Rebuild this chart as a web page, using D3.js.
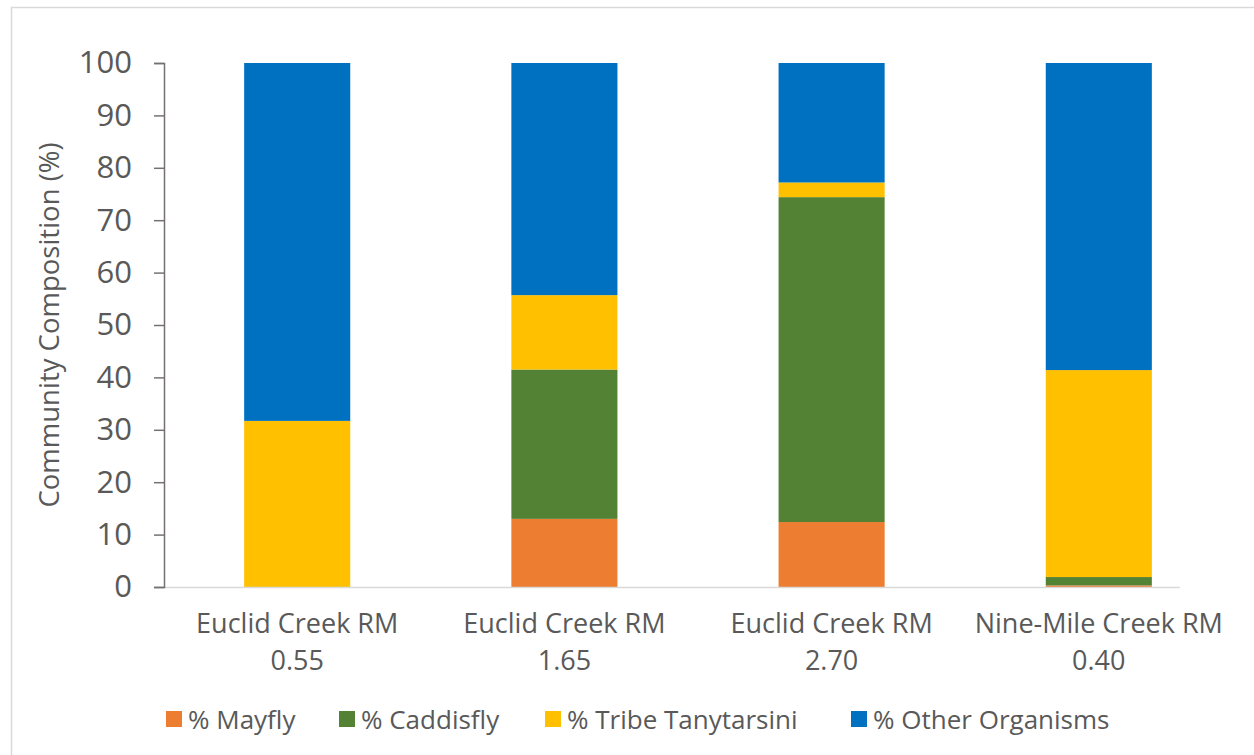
<!DOCTYPE html>
<html><head><meta charset="utf-8">
<script src="https://cdn.jsdelivr.net/npm/d3@7"></script>
<style>body{margin:0;background:#fff}svg{display:block}text{font-family:"Open Sans",sans-serif;fill:#595959}</style>
</head><body><svg id="c" width="1254" height="755"></svg>
<script>
const categories = [["Euclid Creek RM","0.55"],["Euclid Creek RM","1.65"],["Euclid Creek RM","2.70"],["Nine-Mile Creek RM","0.40"]];
const seriesNames = ["% Mayfly","% Caddisfly","% Tribe Tanytarsini","% Other Organisms"];
const colors = ["#ED7D31","#548235","#FFC000","#0070C0"];
const mayfly = [0, 13.0, 12.4, 0.3];
const caddisfly = [0, 28.5, 62.0, 1.6];
const tanytarsini = [31.7, 14.2, 2.8, 39.5];
const other = [68.3, 44.3, 22.8, 58.6];
const yTicks = [0,10,20,30,40,50,60,70,80,90,100];

const svg = d3.select("#c");
svg.append("rect").attr("x",11.5).attr("y",7.5).attr("width",1300).attr("height",800)
  .attr("fill","none").attr("stroke","#d9d9d9").attr("stroke-width",1.5);

const L=164, R=1232, T=63, B=587;
const x = d3.scaleBand().domain(d3.range(categories.length)).range([L,R]).paddingInner(0.603).paddingOuter(0.3);
const y = d3.scaleLinear().domain([0,100]).range([B,T]);

const rows = categories.map((c,i)=>({i, m:mayfly[i], c:caddisfly[i], t:tanytarsini[i], o:other[i]}));
const stack = d3.stack().keys(["m","c","t","o"])(rows);

stack.forEach((s,k)=>{
  svg.append("g").selectAll("rect").data(s).join("rect")
    .attr("x",d=>x(d.data.i)).attr("width",x.bandwidth())
    .attr("y",d=>y(d[1])).attr("height",d=>y(d[0])-y(d[1]))
    .attr("fill",colors[k]);
});

svg.append("line").attr("x1",L).attr("x2",R-52).attr("y1",B+0.5).attr("y2",B+0.5).attr("stroke","#d9d9d9").attr("stroke-width",1.5);

const ya = svg.append("g").attr("transform",`translate(${L},0)`)
  .call(d3.axisLeft(y).tickValues(yTicks).tickSize(10).tickPadding(22));
ya.select(".domain").attr("stroke","#767171").attr("stroke-width",1.5);
ya.selectAll(".tick line").attr("stroke","#767171").attr("stroke-width",1.5);
ya.selectAll(".tick text").attr("font-size",31).attr("font-family","Open Sans").attr("fill","#595959");

svg.append("text").attr("transform",`translate(59,${(T+B)/2}) rotate(-90)`)
  .attr("text-anchor","middle").attr("font-size",27.5).text("Community Composition (%)");

categories.forEach((c,i)=>{
  const cx = x(i)+x.bandwidth()/2;
  svg.append("text").attr("x",cx).attr("y",633).attr("text-anchor","middle").attr("font-size",27).text(c[0]);
  svg.append("text").attr("x",cx).attr("y",670).attr("text-anchor","middle").attr("font-size",27).text(c[1]);
});

const legX = [166, 339, 545, 851];
seriesNames.forEach((n,k)=>{
  svg.append("rect").attr("x",legX[k]).attr("y",711).attr("width",16).attr("height",16).attr("fill",colors[k]);
  svg.append("text").attr("x",legX[k]+22).attr("y",729).attr("font-size",26).text(n);
});
</script></body></html>
